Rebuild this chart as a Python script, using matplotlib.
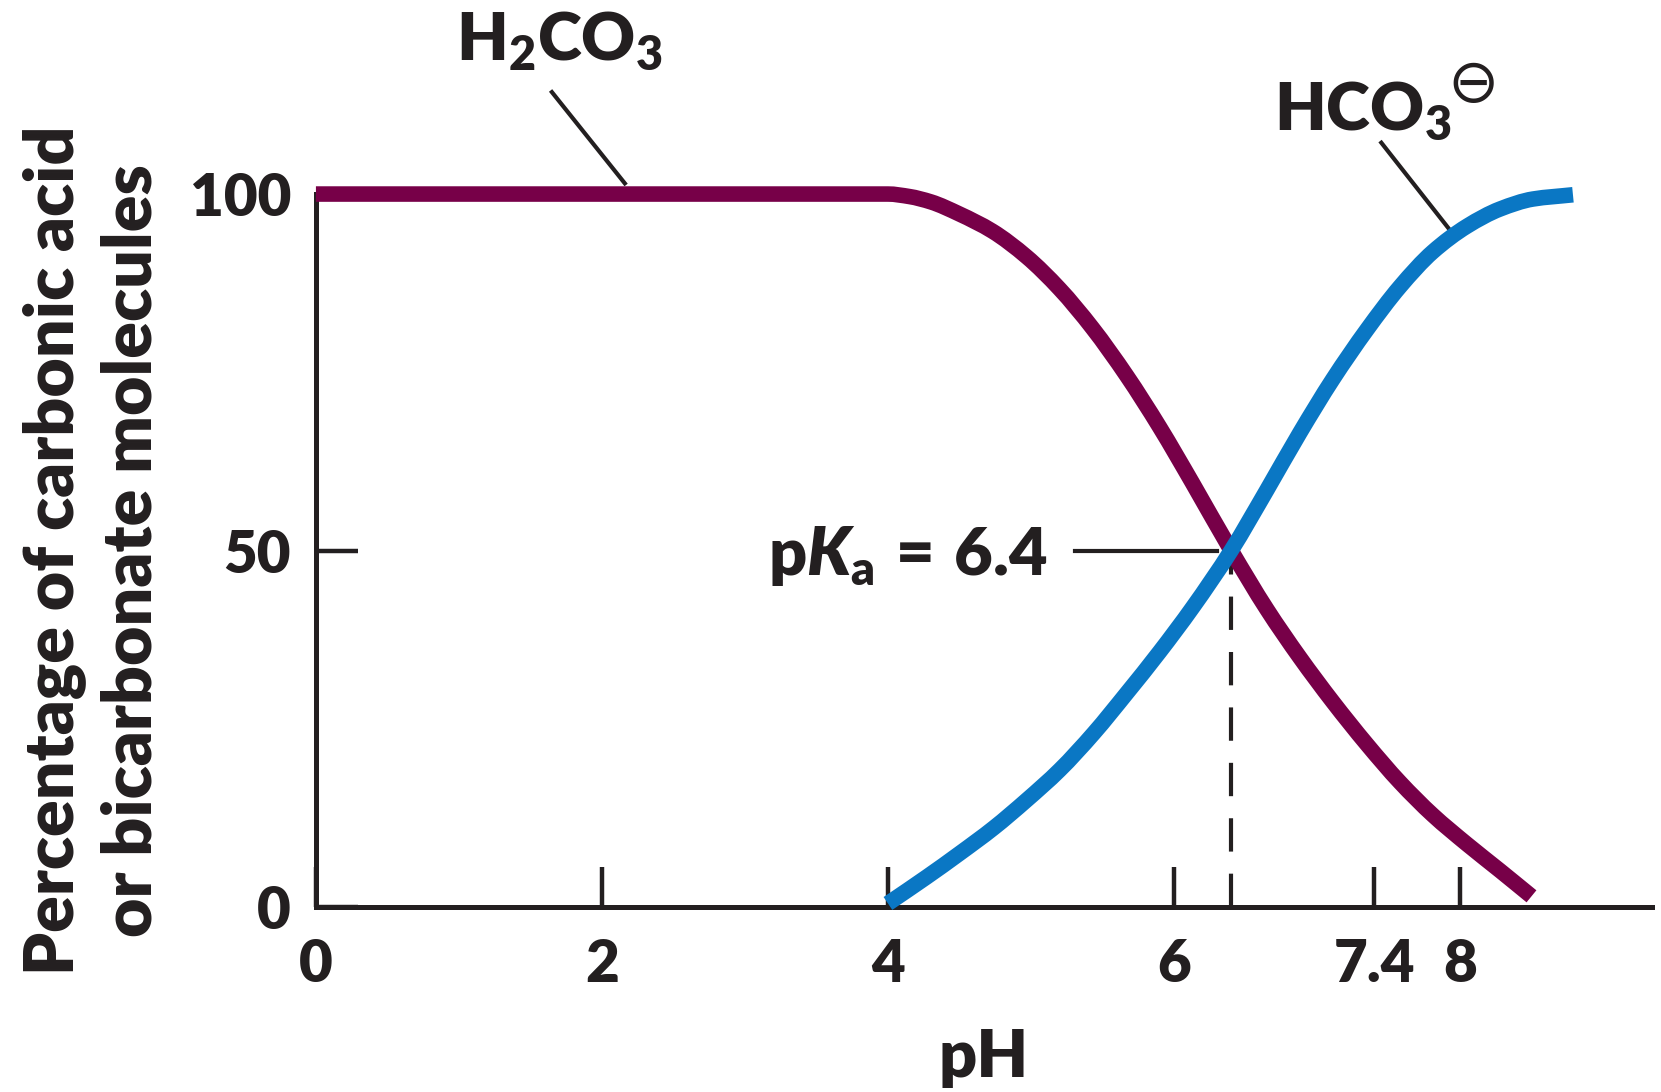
import matplotlib
matplotlib.use("Agg")
import matplotlib.pyplot as plt
from matplotlib.path import Path
from matplotlib.patches import PathPatch

# --- data -------------------------------------------------------------
ph_acid = [0.0, 3.8, 4.0, 4.15, 4.3, 4.5, 4.73, 4.97, 5.2, 5.43, 5.67, 5.9,
           6.13, 6.4, 6.65, 6.88, 7.11, 7.35, 7.58, 7.81, 8.05, 8.28, 8.5]
pct_acid = [100, 100, 100, 99.65, 98.9, 97.2, 94.8, 91.2, 86.7, 81.2, 74.5, 67.3,
            59.45, 50, 41.75, 35.0, 28.8, 22.8, 17.5, 12.9, 8.8, 5.1, 1.5]

ph_bicarb = [4.0, 4.27, 4.5, 4.74, 4.97, 5.2, 5.44, 5.67, 5.9, 6.13, 6.4,
             6.65, 6.88, 7.11, 7.35, 7.58, 7.81, 8.05, 8.28, 8.51, 8.79]
pct_bicarb = [0.5, 4.2, 7.5, 11.1, 15.0, 19.2, 24.4, 30.0, 35.8, 42.0, 50,
              58.5, 66.5, 74.0, 81.0, 87.0, 91.9, 95.5, 97.9, 99.3, 99.9]

pka = 6.4
x_ticks = [0, 2, 4, 6, 7.4, 8]
x_tick_labels = ["0", "2", "4", "6", "7.4", "8"]
y_ticks = [0, 50, 100]
y_tick_labels = ["0", "50", "100"]

# --- style ------------------------------------------------------------
INK = "#231f20"
ACID = "#770048"
BICARB = "#0a77c4"
W = "heavy"

plt.rcParams["font.family"] = ["Lato", "DejaVu Sans"]
plt.rcParams["font.weight"] = W
plt.rcParams["mathtext.fontset"] = "custom"
plt.rcParams["mathtext.rm"] = "Lato:heavy"
plt.rcParams["mathtext.bf"] = "Lato:heavy"
plt.rcParams["mathtext.it"] = "Lato:heavy:italic"
plt.rcParams["mathtext.default"] = "rm"


def smooth_curve(xs, ys):
    """Piecewise monotone cubic (PCHIP-style) path through the given points."""
    n = len(xs)
    h = [xs[i + 1] - xs[i] for i in range(n - 1)]
    d = [(ys[i + 1] - ys[i]) / h[i] for i in range(n - 1)]
    m = [0.0] * n
    m[0], m[-1] = d[0], d[-1]
    for i in range(1, n - 1):
        if d[i - 1] * d[i] <= 0:
            m[i] = 0.0
        else:
            w1 = 2 * h[i] + h[i - 1]
            w2 = h[i] + 2 * h[i - 1]
            m[i] = (w1 + w2) / (w1 / d[i - 1] + w2 / d[i])
    verts = [(xs[0], ys[0])]
    codes = [Path.MOVETO]
    for i in range(n - 1):
        verts += [(xs[i] + h[i] / 3, ys[i] + m[i] * h[i] / 3),
                  (xs[i + 1] - h[i] / 3, ys[i + 1] - m[i + 1] * h[i] / 3),
                  (xs[i + 1], ys[i + 1])]
        codes += [Path.CURVE4] * 3
    return Path(verts, codes)


fig = plt.figure(figsize=(16.61, 10.92), dpi=100)
ax = fig.add_axes([0.1902, 0.1694, 0.8044, 0.6529])

ax.set_xlim(0, 9.343)
ax.set_ylim(0, 100)

for s in ("top", "right"):
    ax.spines[s].set_visible(False)
for s in ("left", "bottom"):
    ax.spines[s].set_linewidth(3.6)
    ax.spines[s].set_color(INK)
    ax.spines[s].set_capstyle("projecting")

ax.set_xticks(x_ticks)
ax.set_xticklabels(x_tick_labels)
ax.set_yticks(y_ticks)
ax.set_yticklabels(y_tick_labels)
ax.tick_params(axis="x", direction="in", length=29, width=3.2, color=INK,
               labelsize=42, labelcolor=INK, pad=22)
ax.tick_params(axis="y", direction="in", length=30, width=3.2, color=INK,
               labelsize=42, labelcolor=INK, pad=18)
for lab in ax.get_xticklabels() + ax.get_yticklabels():
    lab.set_fontweight(W)

# curves
for xs, ys, col in ((ph_acid, pct_acid, ACID), (ph_bicarb, pct_bicarb, BICARB)):
    patch = PathPatch(smooth_curve(xs, ys), facecolor="none", edgecolor=col,
                      lw=11.2, capstyle="butt", joinstyle="round",
                      transform=ax.transData, clip_on=False, zorder=3)
    ax.add_patch(patch)

# pKa marker: dashed drop line and horizontal leader
ax.plot([pka, pka], [0, 50], color=INK, lw=3.0, dashes=(8, 5.3), zorder=2)
ax.plot([5.31, 6.30], [50, 50], color=INK, lw=3.0, zorder=2)
ax.text(5.12, 46.6, r"$\mathrm{p}\mathit{K}_{\mathrm{a}}\,=\,6.4$", ha="right",
        va="baseline", fontsize=48, color=INK)

# species labels with leader lines
ax.text(1.70, 118.8, r"$H_{2}CO_{3}$", ha="center", va="baseline",
        fontsize=48, color=INK, clip_on=False)
ax.plot([1.65, 2.16], [114.3, 101.5], color=INK, lw=3.0, clip_on=False)

ax.text(6.70, 109.0, r"$HCO_{3}$", ha="left", va="baseline",
        fontsize=48, color=INK, clip_on=False)
ax.text(8.09, 115.2, "\u2296", ha="center", va="center", fontsize=44,
        color=INK, family="DejaVu Sans", fontweight="normal", clip_on=False)
ax.plot([7.45, 7.92], [107.2, 95.2], color=INK, lw=3.0, clip_on=False)

# axis labels
ax.set_xlabel("pH", fontsize=48, fontweight=W, color=INK)
ax.xaxis.set_label_coords(0.5, -0.2384)
ax.xaxis.label.set_va("baseline")

ax.set_ylabel("Percentage of carbonic acid\nor bicarbonate molecules",
              fontsize=49, fontweight=W, color=INK, linespacing=1.3)
ax.yaxis.set_label_coords(-0.167, 0.5)
ax.yaxis.label.set_va("center")

fig.savefig("out.png", dpi=100, facecolor="white")
